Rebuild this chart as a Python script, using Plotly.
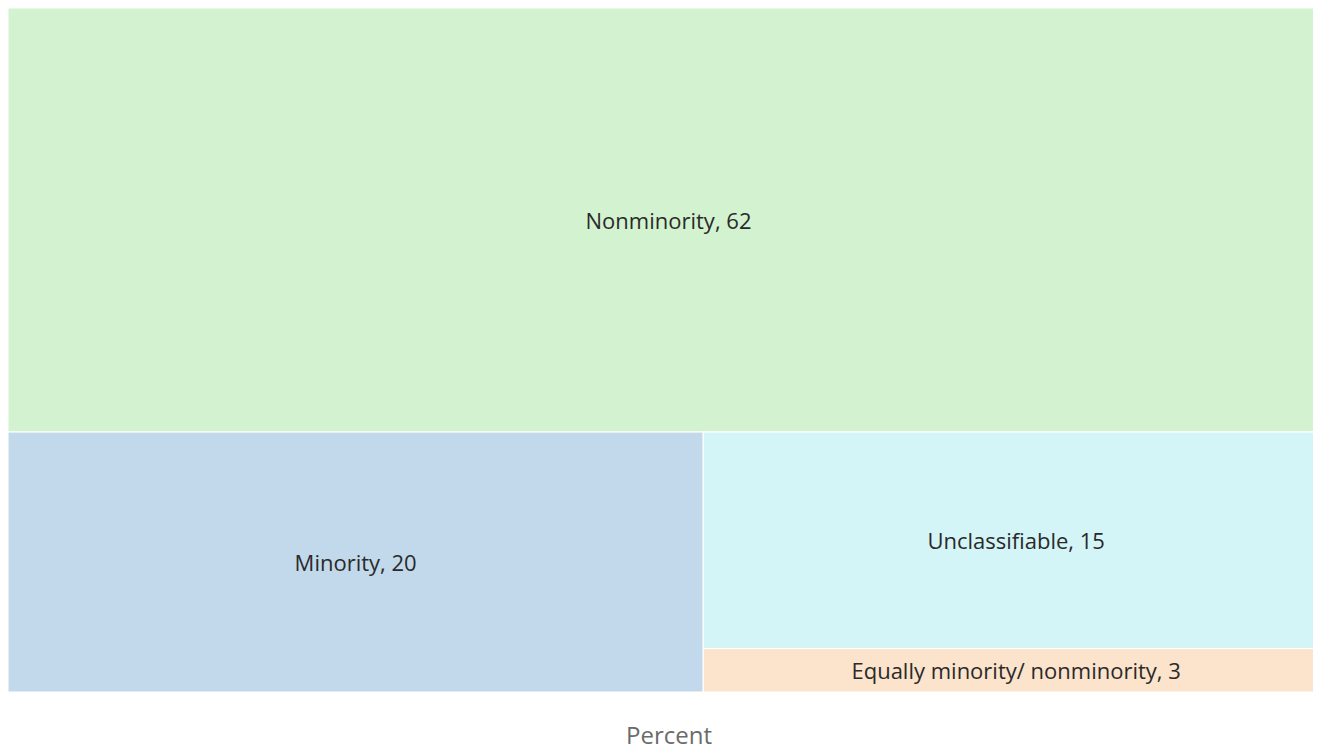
import plotly.graph_objects as go

labels = ["Nonminority", "Minority", "Unclassifiable", "Equally minority/ nonminority"]
values = [62, 20, 15, 3]
colors = ["#d3f3d0", "#c2d8eb", "#d3f5f7", "#fce3cb"]

# hidden grouping nodes so that the tiles nest as in the reference
ids = ["n0", "g1", "n1", "g2", "n2", "n3"]
parents = ["", "", "g1", "g1", "g2", "g2"]
all_labels = [labels[0], "", labels[1], "", labels[2], labels[3]]
all_values = [values[0], 0, values[1], 0, values[2], values[3]]
clear = "rgba(0,0,0,0)"
all_colors = [colors[0], clear, colors[1], clear, colors[2], colors[3]]
tpl = "%{label}, %{value}"
templates = [tpl, "", tpl, "", tpl, tpl]

fig = go.Figure(go.Treemap(
    ids=ids,
    labels=all_labels,
    parents=parents,
    values=all_values,
    branchvalues="remainder",
    marker=dict(colors=all_colors, line=dict(width=1, color="#ffffff"),
                pad=dict(t=0, l=0, r=0, b=0)),
    texttemplate=templates,
    textposition="middle center",
    textfont=dict(family="Open Sans", size=22, color="#2a2a2a"),
    sort=False,
    tiling=dict(packing="dice-slice", pad=0),
    pathbar=dict(visible=False),
    hoverinfo="label+value",
))

fig.update_layout(
    width=1321, height=751,
    margin=dict(l=0, r=0, t=0, b=67),
    paper_bgcolor="white",
    font=dict(family="Open Sans"),
    annotations=[dict(text="Percent", x=0.5, y=-0.067, xref="paper", yref="paper",
                      showarrow=False, font=dict(size=24, color="#6b6b6b"),
                      xanchor="center", yanchor="middle", yshift=3, borderpad=0)],
)

fig.write_html("out.html")
